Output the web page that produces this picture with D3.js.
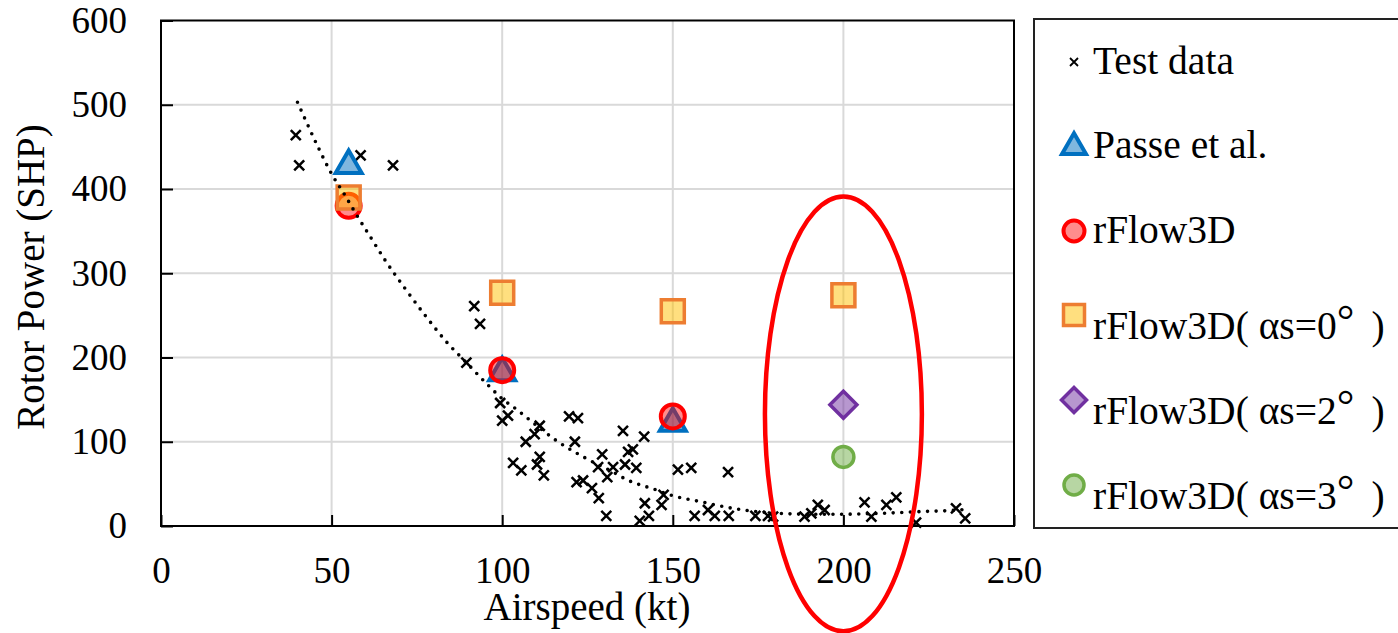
<!DOCTYPE html>
<html>
<head>
<meta charset="utf-8">
<title>Rotor Power vs Airspeed</title>
<script src="https://d3js.org/d3.v7.min.js"></script>
<style>
body { margin: 0; background: #fff; }
svg { font-family: "Liberation Serif", "Times New Roman", serif; }
.grid line { stroke: #d9d9d9; stroke-width: 2; }
.axis path { display: none; }
.axis line { stroke: #000; stroke-width: 2; }
.axis text { font-size: 37px; fill: #000; font-family: "Liberation Serif", "Times New Roman", serif; }
.title { font-size: 39px; fill: #000; }
.legtext { font-size: 39.5px; fill: #000; }
</style>
</head>
<body>
<script>
// test data (airspeed kt, rotor power SHP)
var testX = [39.5, 40.5, 58.5, 68, 91.8, 93.5, 89.5, 99.4, 101.7, 100, 111, 109.5, 106.9,
  119.6, 122.2, 121.3, 103.2, 105.6, 111, 110.2, 112.2, 129.3, 128.1, 132.5, 130.8, 121.8,
  123.7, 126.3, 128.3, 130.5, 135.4, 141.6, 136.9, 138.3, 136, 139.3, 151.5, 155.4, 166.2,
  141.8, 146.7, 147.3, 143, 140.3, 156.4, 160.3, 162.3, 166.4, 174.2, 177.9, 179.4, 188.6,
  190.6, 192.5, 194.5, 206.2, 208.2, 212.6, 215.5, 221.3, 233, 235.7];
var testY = [464, 428, 440, 428, 261, 240, 194, 146, 131, 125, 119, 109, 100,
  130, 128, 100, 75, 66, 82, 73, 60, 85, 70, 70, 58, 52,
  54, 45, 33, 12, 113, 106, 88, 91, 73, 69, 67, 69, 64,
  27, 25, 37, 12, 6, 12, 19, 12, 12, 12, 12, 11, 11,
  15, 25, 19, 28, 11, 25, 34, 4, 21, 9];

// dotted trend line
var trendX = [40, 42, 46, 50, 54, 57.5, 61.7, 65.6, 71.5, 77.6, 84, 89.5, 96.4, 100, 104, 108,
  116, 124.7, 132.5, 136, 145, 150, 158, 167.6, 177.4, 190, 200, 211, 222, 234, 236];
var trendY = [503, 485, 450, 418, 392, 368, 341, 316, 282, 249, 217, 194, 165, 151, 139, 126,
  101, 80, 64, 56, 43, 36, 29, 21, 16, 14, 14, 15, 17, 19, 20];

var passeX = [55, 100, 150];
var passeY = [428, 182, 122];
var rflowX = [55, 100, 150];
var rflowY = [380, 185, 130];
var a0X = [55, 100, 150, 200];
var a0Y = [390, 277, 255, 274];
var a2X = [200];
var a2Y = [144];
var a3X = [200];
var a3Y = [82];

var xTicks = [0, 50, 100, 150, 200, 250];
var yTicks = [0, 100, 200, 300, 400, 500, 600];

var legendLabels = ["Test data", "Passe et al.", "rFlow3D",
  "rFlow3D( \u03b1s=0", "rFlow3D( \u03b1s=2", "rFlow3D( \u03b1s=3"];

// highlight ellipse (data units)
var ringCx = 200, ringCy = 133, ringRx = 23, ringRy = 258;

var width = 1398, height = 633;
var plotLeft = 161, plotRight = 1014, plotTop = 20.5, plotBottom = 526;

var svg = d3.select("body").append("svg")
    .attr("width", width)
    .attr("height", height);

var x = d3.scaleLinear().domain([0, 250]).range([plotLeft, plotRight]);
var y = d3.scaleLinear().domain([0, 600]).range([plotBottom, plotTop]);

// gridlines
var grid = svg.append("g").attr("class", "grid");
grid.selectAll("line.v")
    .data(xTicks.filter(function(d) { return d > 0 && d < 250; }))
  .enter().append("line")
    .attr("x1", function(d) { return x(d); })
    .attr("x2", function(d) { return x(d); })
    .attr("y1", plotTop).attr("y2", plotBottom);
grid.selectAll("line.h")
    .data(yTicks.filter(function(d) { return d > 0 && d < 600; }))
  .enter().append("line")
    .attr("x1", plotLeft).attr("x2", plotRight)
    .attr("y1", function(d) { return y(d); })
    .attr("y2", function(d) { return y(d); });

// axes with inside ticks
svg.append("g")
    .attr("class", "axis")
    .attr("transform", "translate(0," + plotBottom + ")")
    .call(d3.axisBottom(x).tickValues(xTicks).tickSizeInner(-11).tickSizeOuter(0).tickPadding(31));
svg.append("g")
    .attr("class", "axis")
    .attr("transform", "translate(" + plotLeft + ",0)")
    .call(d3.axisLeft(y).tickValues(yTicks).tickSizeInner(-12).tickSizeOuter(0).tickPadding(34));

// plot frame
svg.append("rect")
    .attr("x", plotLeft).attr("y", plotTop)
    .attr("width", plotRight - plotLeft).attr("height", plotBottom - plotTop)
    .attr("fill", "none").attr("stroke", "#000").attr("stroke-width", 2);

// axis titles
svg.append("text").attr("class", "title")
    .attr("x", 587).attr("y", 620)
    .attr("text-anchor", "middle")
    .text("Airspeed (kt)");
svg.append("text").attr("class", "title")
    .attr("transform", "translate(44,277) rotate(-90)")
    .attr("text-anchor", "middle")
    .text("Rotor Power (SHP)");

// marker shapes
function crossPath(s) {
  return "M" + (-s) + "," + (-s) + "L" + s + "," + s + "M" + (-s) + "," + s + "L" + s + "," + (-s);
}
function triPath(s) {
  var h = s * Math.sqrt(3) / 2;
  return "M0," + (-h * 2 / 3) + "L" + (s / 2) + "," + (h / 3) + "L" + (-s / 2) + "," + (h / 3) + "Z";
}
function squarePath(s) {
  var h = s / 2;
  return "M" + (-h) + "," + (-h) + "H" + h + "V" + h + "H" + (-h) + "Z";
}
function diamondPath(s) {
  var h = s / 2;
  return "M0," + (-h) + "L" + h + ",0L0," + h + "L" + (-h) + ",0Z";
}
function circlePath(s) {
  var r = s / 2;
  return "M" + r + ",0A" + r + "," + r + " 0 1,1 " + (-r) + ",0A" + r + "," + r + " 0 1,1 " + r + ",0Z";
}

var styles = [
  { shape: crossPath, size: 5, legendSize: 4, fill: "none", stroke: "#000", sw: 2.5 },
  { shape: triPath, size: 26, legendSize: 24, fill: "rgba(0,112,192,0.5)", stroke: "#0070c0", sw: 4 },
  { shape: circlePath, size: 24, legendSize: 21, fill: "rgba(255,0,0,0.45)", stroke: "#ff0000", sw: 4 },
  { shape: squarePath, size: 23, legendSize: 21, fill: "rgba(255,192,0,0.5)", stroke: "#ed7d31", sw: 3.5 },
  { shape: diamondPath, size: 27, legendSize: 25, fill: "rgba(112,48,160,0.5)", stroke: "#7030a0", sw: 3.5 },
  { shape: circlePath, size: 21, legendSize: 20, fill: "rgba(112,173,71,0.5)", stroke: "#70ad47", sw: 3.5 }
];

var seriesX = [testX, passeX, rflowX, a0X, a2X, a3X];
var seriesY = [testY, passeY, rflowY, a0Y, a2Y, a3Y];

var marks = svg.append("g");
seriesX.forEach(function(xs, i) {
  var st = styles[i];
  marks.append("g").selectAll("path")
      .data(xs.map(function(v, j) { return [v, seriesY[i][j]]; }))
    .enter().append("path")
      .attr("transform", function(d) { return "translate(" + x(d[0]) + "," + y(d[1]) + ")"; })
      .attr("d", st.shape(st.size))
      .attr("fill", st.fill)
      .attr("stroke", st.stroke)
      .attr("stroke-width", st.sw);
});

// dotted trend line
var trendLine = d3.line()
    .x(function(d) { return x(d[0]); })
    .y(function(d) { return y(d[1]); })
    .curve(d3.curveMonotoneX);
svg.append("path")
    .datum(trendX.map(function(v, j) { return [v, trendY[j]]; }))
    .attr("d", trendLine)
    .attr("fill", "none")
    .attr("stroke", "#000")
    .attr("stroke-width", 3.6)
    .attr("stroke-linecap", "round")
    .attr("stroke-dasharray", "0,8.6");

// red highlight ellipse
svg.append("ellipse")
    .attr("cx", x(ringCx))
    .attr("cy", y(ringCy))
    .attr("rx", x(ringRx) - x(0))
    .attr("ry", y(0) - y(ringRy))
    .attr("fill", "none")
    .attr("stroke", "#ff0000")
    .attr("stroke-width", 4.5);

// legend
var legend = svg.append("g");
legend.append("rect")
    .attr("x", 1034).attr("y", 19)
    .attr("width", 380).attr("height", 509)
    .attr("fill", "#fff").attr("stroke", "#222").attr("stroke-width", 2);

var legendMarkY = [62, 147, 231, 315, 400, 485];
var legendTextY = [74, 158, 243, 339, 424, 509];
legendLabels.forEach(function(lab, i) {
  var st = styles[i];
  legend.append("path")
      .attr("transform", "translate(1074," + legendMarkY[i] + ")")
      .attr("d", st.shape(st.legendSize))
      .attr("fill", st.fill)
      .attr("stroke", st.stroke)
      .attr("stroke-width", i === 0 ? 1.8 : st.sw);
  var t = legend.append("text").attr("class", "legtext")
      .attr("x", 1093).attr("y", legendTextY[i]);
  t.text(lab);
  if (i >= 3) {
    t.append("tspan").attr("dy", -4).style("font-size", "44px").text("\u00b0");
    t.append("tspan").attr("dx", 17).attr("dy", 4).text(")");
  }
});
</script>
</body>
</html>
